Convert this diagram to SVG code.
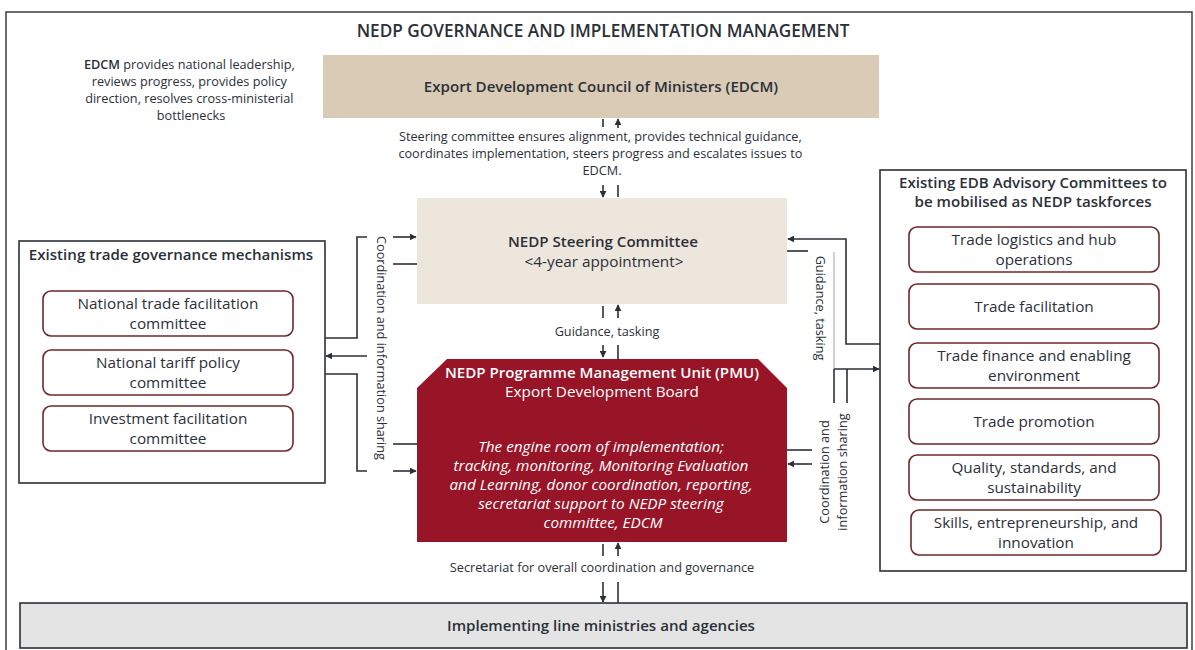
<svg xmlns="http://www.w3.org/2000/svg" width="1195" height="650" viewBox="0 0 1195 650">
  <defs>
    <marker id="ah" viewBox="0 0 10 10" refX="9" refY="5" markerWidth="7" markerHeight="7" markerUnits="userSpaceOnUse" orient="auto">
      <path d="M0,0 L10,5 L0,10 z" fill="#2b3038"/>
    </marker>
    <style>
      text { font-family: "Open Sans", "Noto Sans", "Liberation Sans", sans-serif; fill: #2b3038; }
      .title { font-size: 17.2px; font-weight: 600; }
      .hd { font-size: 15.1px; font-weight: 600; }
      .bd { font-size: 15.3px; }
      .sm { font-size: 12.7px; }
      .wh { fill: #ffffff; }
      .it { font-style: italic; }
      .frame { fill: none; stroke: #3a3f46; stroke-width: 1.5; }
      .cont { fill: #ffffff; stroke: #2b3038; stroke-width: 1.6; }
      .item { fill: #ffffff; stroke: #6e2a2a; stroke-width: 1.6; }
      .ln { fill: none; stroke: #2b3038; stroke-width: 1.6; }
      .arr { fill: none; stroke: #2b3038; stroke-width: 1.6; marker-end: url(#ah); }
      .thin { fill: none; stroke: #9a9a9a; stroke-width: 0.9; }
    </style>
  </defs>

  <rect width="1195" height="650" fill="#ffffff"/>
  <rect class="frame" x="6" y="12" width="1186" height="650"/>

  <text class="title" x="603" y="37" text-anchor="middle">NEDP GOVERNANCE AND IMPLEMENTATION MANAGEMENT</text>

  <!-- Council of ministers -->
  <g id="edcm">
    <rect x="323" y="55" width="556" height="63" fill="#d9cbb5"/>
    <text class="hd" x="601" y="92" text-anchor="middle">Export Development Council of Ministers (EDCM)</text>
  </g>

  <g id="edcm-note">
    <text class="sm" text-anchor="middle">
      <tspan x="191" y="69"><tspan font-weight="600">EDCM</tspan> provides national leadership,</tspan>
      <tspan x="191" y="86">reviews progress, provides policy</tspan>
      <tspan x="191" y="103">direction, resolves cross-ministerial</tspan>
      <tspan x="191" y="120">bottlenecks</tspan>
    </text>
  </g>

  <!-- Steering committee -->
  <g id="steering">
    <rect x="417" y="198" width="370" height="106" fill="#ede6dd"/>
    <text class="hd" x="603" y="247" text-anchor="middle">NEDP Steering Committee</text>
    <text class="bd" x="604" y="267" text-anchor="middle">&lt;4-year appointment&gt;</text>
  </g>

  <!-- Programme management unit -->
  <g id="pmu">
    <path d="M447,359 L758,359 L787,388 L787,542 L417,542 L417,388 Z" fill="#981427"/>
    <text class="hd wh" x="602" y="378" text-anchor="middle">NEDP Programme Management Unit (PMU)</text>
    <text class="bd wh" x="602" y="397" text-anchor="middle">Export Development Board</text>
    <text class="bd wh it" text-anchor="middle">
      <tspan x="603" y="452">The engine room of implementation;</tspan>
      <tspan x="603" y="471">tracking, monitoring, Monitoring Evaluation</tspan>
      <tspan x="603" y="490">and Learning, donor coordination, reporting,</tspan>
      <tspan x="603" y="509">secretariat support to NEDP steering</tspan>
      <tspan x="603" y="528">committee, EDCM</tspan>
    </text>
  </g>

  <!-- Line ministries -->
  <g id="ministries">
    <rect x="20" y="603" width="1167" height="45" fill="#e4e4e4" stroke="#2b3038" stroke-width="1.6"/>
    <text class="hd" x="601" y="631" text-anchor="middle">Implementing line ministries and agencies</text>
  </g>

  <!-- Existing trade governance mechanisms -->
  <g id="trade-governance">
    <rect class="cont" x="19" y="241" width="306" height="242"/>
    <text class="hd" x="171" y="260" text-anchor="middle">Existing trade governance mechanisms</text>
    <rect class="item" x="43" y="291" width="250" height="45" rx="8"/>
    <text class="bd" text-anchor="middle"><tspan x="168" y="309">National trade facilitation</tspan><tspan x="168" y="329">committee</tspan></text>
    <rect class="item" x="43" y="350" width="250" height="45" rx="8"/>
    <text class="bd" text-anchor="middle"><tspan x="168" y="368">National tariff policy</tspan><tspan x="168" y="388">committee</tspan></text>
    <rect class="item" x="43" y="406" width="250" height="45" rx="8"/>
    <text class="bd" text-anchor="middle"><tspan x="168" y="424">Investment facilitation</tspan><tspan x="168" y="444">committee</tspan></text>
  </g>

  <!-- EDB advisory committees -->
  <g id="edb-committees">
    <rect class="cont" x="880" y="170" width="306" height="401"/>
    <text class="hd" text-anchor="middle"><tspan x="1033" y="188">Existing EDB Advisory Committees to</tspan><tspan x="1033" y="207">be mobilised as NEDP taskforces</tspan></text>
    <rect class="item" x="909" y="227" width="250" height="45" rx="8"/>
    <text class="bd" text-anchor="middle"><tspan x="1034" y="245">Trade logistics and hub</tspan><tspan x="1034" y="265">operations</tspan></text>
    <rect class="item" x="909" y="284" width="250" height="45" rx="8"/>
    <text class="bd" x="1034" y="312" text-anchor="middle">Trade facilitation</text>
    <rect class="item" x="909" y="343" width="250" height="45" rx="8"/>
    <text class="bd" text-anchor="middle"><tspan x="1034" y="361">Trade finance and enabling</tspan><tspan x="1034" y="381">environment</tspan></text>
    <rect class="item" x="909" y="399" width="250" height="45" rx="8"/>
    <text class="bd" x="1034" y="427" text-anchor="middle">Trade promotion</text>
    <rect class="item" x="909" y="455" width="250" height="45" rx="8"/>
    <text class="bd" text-anchor="middle"><tspan x="1034" y="473">Quality, standards, and</tspan><tspan x="1034" y="493">sustainability</tspan></text>
    <rect class="item" x="911" y="510" width="250" height="45" rx="8"/>
    <text class="bd" text-anchor="middle"><tspan x="1036" y="528">Skills, entrepreneurship, and</tspan><tspan x="1036" y="548">innovation</tspan></text>
  </g>

  <!-- Connectors -->
  <g id="connectors">
    <!-- EDCM / steering committee -->
    <line class="ln" x1="603" y1="119" x2="603" y2="127"/>
    <line class="arr" x1="618" y1="128" x2="618" y2="119"/>
    <line class="arr" x1="603" y1="185" x2="603" y2="197"/>
    <line class="ln" x1="618" y1="185" x2="618" y2="197"/>

    <!-- steering committee / PMU -->
    <line class="ln" x1="603" y1="306" x2="603" y2="318"/>
    <line class="arr" x1="618" y1="318" x2="618" y2="305"/>
    <line class="arr" x1="603" y1="345" x2="603" y2="357"/>
    <line class="ln" x1="618" y1="345" x2="618" y2="360"/>

    <!-- PMU / line ministries -->
    <line class="ln" x1="603" y1="544" x2="603" y2="556"/>
    <line class="arr" x1="618" y1="556" x2="618" y2="543"/>
    <line class="arr" x1="603" y1="582" x2="603" y2="602"/>
    <line class="ln" x1="618" y1="582" x2="618" y2="603"/>

    <!-- left side: trade governance mechanisms -->
    <polyline class="ln" points="325,338 357,338 357,237 367,237"/>
    <line class="arr" x1="393" y1="237" x2="416" y2="237"/>
    <line class="ln" x1="393" y1="264" x2="417" y2="264"/>
    <line class="arr" x1="367" y1="356" x2="326" y2="356"/>
    <polyline class="ln" points="325,374 357,374 357,471 367,471"/>
    <line class="arr" x1="393" y1="471" x2="416" y2="471"/>
    <line class="ln" x1="393" y1="444" x2="417" y2="444"/>

    <!-- right side: EDB advisory committees -->
    <polyline class="arr" points="880,344 846,344 846,239 788,239"/>
    <line class="ln" x1="787" y1="251" x2="808" y2="251"/>
    <line class="thin" x1="834" y1="252" x2="834" y2="369"/>
    <line class="arr" x1="834" y1="369" x2="879" y2="369"/>
    <line class="ln" x1="834" y1="369" x2="834" y2="403"/>
    <line class="ln" x1="847" y1="369" x2="847" y2="403"/>
    <line class="ln" x1="787" y1="450" x2="812" y2="450"/>
    <line class="arr" x1="812" y1="464" x2="788" y2="464"/>

    <!-- connector labels -->
    <text class="sm" text-anchor="middle">
      <tspan x="602" y="141">Steering committee ensures alignment, provides technical guidance,</tspan>
      <tspan x="602" y="158">coordinates implementation, steers progress and escalates issues to</tspan>
      <tspan x="602" y="175">EDCM.</tspan>
    </text>
    <text class="sm" x="607" y="336" text-anchor="middle">Guidance, tasking</text>
    <text class="sm" x="602" y="572" text-anchor="middle">Secretariat for overall coordination and governance</text>
    <text class="sm" transform="translate(377,348) rotate(90)" text-anchor="middle">Coordination and information sharing</text>
    <text class="sm" transform="translate(816,308) rotate(90)" text-anchor="middle">Guidance, tasking</text>
    <text class="sm" transform="translate(829,472) rotate(-90)" text-anchor="middle">Coordination and</text>
    <text class="sm" transform="translate(847,472) rotate(-90)" text-anchor="middle">information sharing</text>
  </g>
</svg>
